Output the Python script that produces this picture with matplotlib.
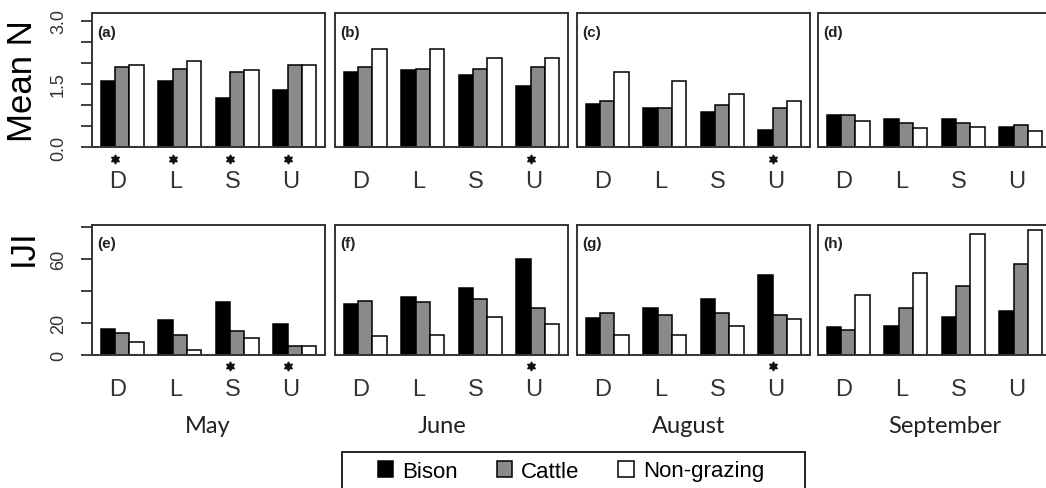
import numpy as np
import matplotlib.pyplot as plt
from matplotlib.patches import Rectangle, Patch

plt.rcParams['font.family'] = ['Liberation Sans', 'DejaVu Sans']

W, H = 1046, 489

months = ['May', 'June', 'August', 'September']
sites = ['D', 'L', 'S', 'U']
groups = ['Bison', 'Cattle', 'Non-grazing']
colors = ['black', '#8a8a8a', 'white']

# Mean N, one row per month (D, L, S, U)
mn_bison = [[1.56, 1.56, 1.17, 1.36], [1.79, 1.83, 1.70, 1.44],
            [1.01, 0.92, 0.84, 0.40], [0.75, 0.67, 0.67, 0.48]]
mn_cattle = [[1.90, 1.86, 1.79, 1.95], [1.90, 1.86, 1.86, 1.90],
             [1.08, 0.92, 1.00, 0.92], [0.75, 0.57, 0.57, 0.52]]
mn_nongraz = [[1.95, 2.04, 1.83, 1.95], [2.33, 2.33, 2.12, 2.12],
              [1.78, 1.56, 1.26, 1.09], [0.61, 0.45, 0.48, 0.39]]

# IJI
iji_bison = [[16.3, 21.9, 33.1, 19.4], [32.1, 36.5, 42.1, 60.2],
             [22.9, 29.6, 35.2, 50.0], [17.3, 18.3, 24.0, 27.3]]
iji_cattle = [[13.8, 12.5, 14.8, 5.6], [34.0, 32.9, 35.2, 29.6],
              [26.2, 25.0, 26.0, 24.8], [15.8, 29.6, 42.9, 56.7]]
iji_nongraz = [[7.9, 3.3, 10.4, 5.6], [11.7, 12.7, 24.0, 19.4],
               [12.7, 12.7, 18.1, 22.7], [37.3, 51.0, 75.8, 77.9]]

# significant differences (index of site) per month
sig_mn = [[0, 1, 2, 3], [3], [3], []]
sig_iji = [[2, 3], [3], [3], []]

mn_ticks = [0, 0.5, 1.0, 1.5, 2.0, 2.5, 3.0]
mn_ticklabels = ['0.0', '', '', '1.5', '', '', '3.0']
iji_ticks = [0, 20, 40, 60, 80]
iji_ticklabels = ['0', '20', '', '60', '']

letters = 'abcdefgh'

fig = plt.figure(figsize=(W / 100, H / 100), dpi=100)

col_left = [92, 335, 577, 818]
rows = [
    dict(top=14, bottom=148, ymax=3.18, data=(mn_bison, mn_cattle, mn_nongraz),
         sig=sig_mn, ticks=mn_ticks, labels=mn_ticklabels, ylabel='Mean N', ylab_y=81),
    dict(top=225.7, bottom=356, ymax=81.5, data=(iji_bison, iji_cattle, iji_nongraz),
         sig=sig_iji, ticks=iji_ticks, labels=iji_ticklabels, ylabel='IJI', ylab_y=248),
]

for r, row in enumerate(rows):
    h = row['bottom'] - row['top']
    for c in range(4):
        ax = fig.add_axes([col_left[c] / W, 1 - row['bottom'] / H, 233 / W, h / H])
        for j, series in enumerate(row['data']):
            x = 1 + 4 * np.arange(4) + j
            ax.bar(x, series[c], width=1, align='edge', color=colors[j],
                   edgecolor='black', linewidth=1.1)
        ax.set_xlim(0.4, 16.6)
        ax.set_ylim(0, row['ymax'])
        for sp in ax.spines.values():
            sp.set_color('#333333')
            sp.set_linewidth(1.4)
        ax.tick_params(axis='x', bottom=False, labelbottom=False)
        if c == 0:
            ax.set_yticks(row['ticks'])
            ax.set_yticklabels(row['labels'], rotation=90, va='center')
            ax.tick_params(axis='y', length=8, width=1.3, color='#333333',
                           labelsize=13, labelcolor='#333333', pad=10)
        else:
            ax.tick_params(axis='y', left=False, labelleft=False)

        ax.text(0.021, 0.86, '(%s)' % letters[r * 4 + c], transform=ax.transAxes,
                fontsize=11, fontweight='bold', va='center', ha='left', color='#222222')

        tr = ax.get_xaxis_transform()
        lab_y = -(33.5 if r == 0 else 34) / h
        star_y = -(12 if r == 0 else 10.7) / h
        for g, s in enumerate(sites):
            ax.text(2.2 + 4 * g, lab_y, s, transform=tr, ha='center', va='center',
                    fontsize=17, color='#333333', clip_on=False)
        for g in row['sig'][c]:
            ax.plot([2.0 + 4 * g], [star_y], transform=tr, marker=(6, 1, 0),
                    markersize=6.5, color='#111111', clip_on=False)

    fig.text(23 / W, 1 - row['ylab_y'] / H, row['ylabel'], rotation=90,
             fontsize=25, ha='center', va='center', color='black')

month_x = [208, 442, 689, 945]
for m, mx in zip(months, month_x):
    fig.text(mx / W, 1 - 427 / H, m, fontsize=17, family='Lato',
             ha='center', va='center', color='#222222')

# legend
handles = [Patch(facecolor=colors[i], edgecolor='black', linewidth=1.1, label=groups[i])
           for i in range(3)]
fig.legend(handles=handles, loc='center', bbox_to_anchor=(571 / W, 1 - 472 / H),
           ncol=3, frameon=False, fontsize=16, handlelength=0.7, handleheight=0.7,
           handletextpad=0.4, columnspacing=1.75)
fig.patches.append(Rectangle((342 / W, 1 - 505 / H), 463 / W, 52 / H, fill=False,
                             edgecolor='#222222', linewidth=1.4,
                             transform=fig.transFigure, figure=fig))

fig.savefig('out.png', dpi=100)
